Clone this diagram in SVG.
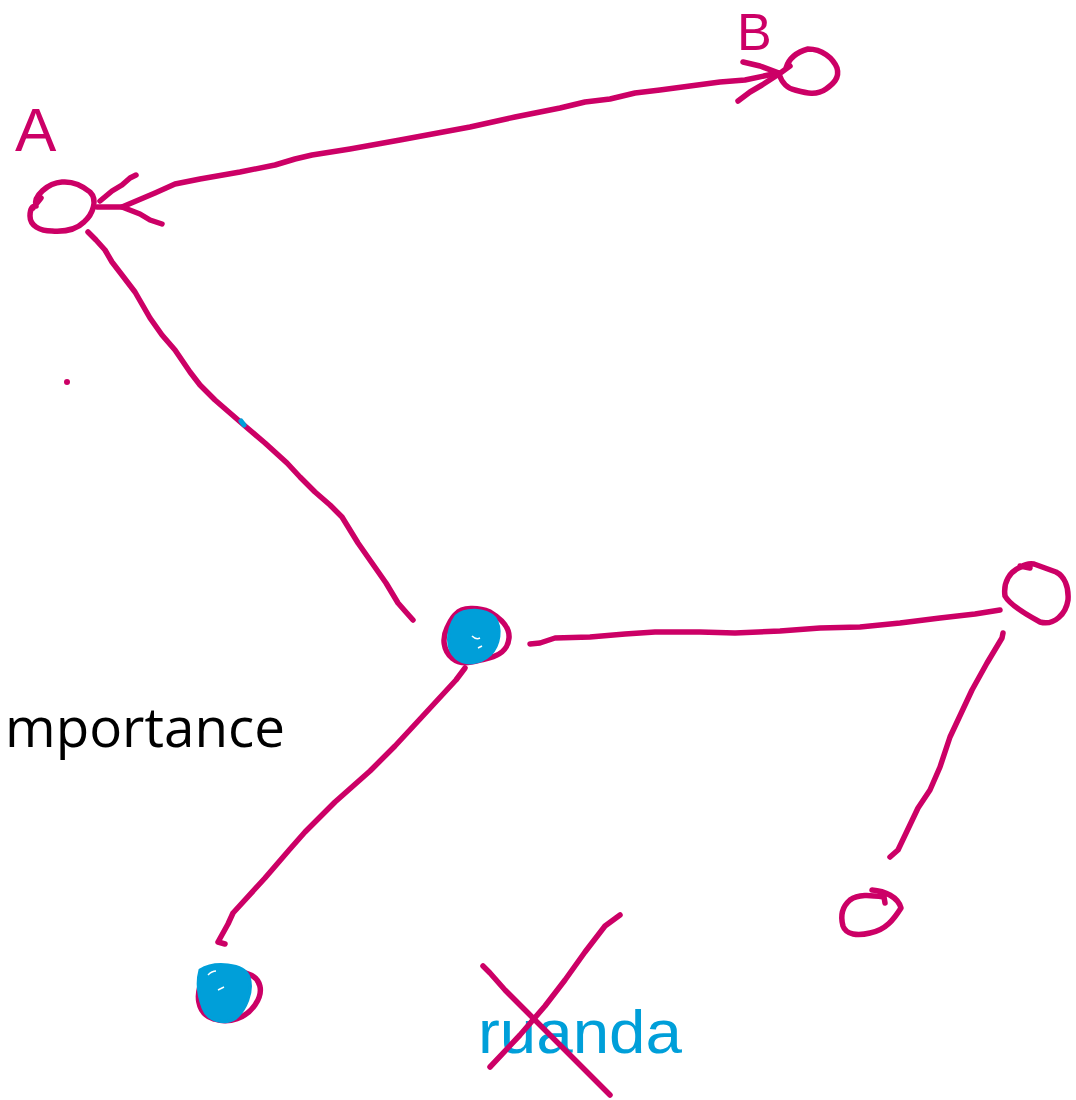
<svg xmlns="http://www.w3.org/2000/svg" width="1076" height="1100" viewBox="0 0 1076 1100">
<style>
.ink{fill:none;stroke:#cc0066;stroke-width:5.5;stroke-linecap:round;stroke-linejoin:round}
.blueink{fill:none;stroke:#009fd9;stroke-width:5;stroke-linecap:round;stroke-linejoin:round}
.blob{fill:#009fd9;stroke:#009fd9;stroke-width:3;stroke-linejoin:round}
.hand{font-family:"Liberation Sans",Arial,sans-serif;fill:#cc0066}
.handb{font-family:"Liberation Sans",Arial,sans-serif;fill:#009fd9}
.label{font-family:"Open Sans","Liberation Sans",sans-serif;fill:#000}
</style>
<rect width="1076" height="1100" fill="#fff"/>
<g id="connectors">
  <path class="ink" d="M122,207 L155,193 L175,184 L200,179 L240,172 L275,165 L295,159 L312,155 L350,149 L400,140 L470,127 L515,117 L560,108 L585,102 L610,99 L635,93 L660,90 L690,86 L720,82 L745,80 L778,73"/>
  <path class="ink" d="M743,62 L760,66 L779,73 M738,101 L750,92 L762,85 L779,74"/>
  <path class="ink" d="M100,201 L112,191 L122,185 L130,178 L136,175 M97,207 L122,207 L140,214 L150,220 L162,224"/>
  <path class="ink" d="M88,232 L96,240 L105,250 L112,262 L122,275 L135,292 L150,318 L162,335 L175,350 L190,372 L200,385 L215,400 L245,426 L265,443 L287,463 L300,477 L315,492 L330,505 L342,517 L358,543 L372,563 L386,583 L398,603 L405,611 L413,620"/>
  <path class="ink" d="M530,644 L540,643 L555,638 L590,637 L625,634 L655,632 L700,632 L735,633 L780,631 L820,628 L860,627 L900,623 L940,618 L975,614 L1000,610"/>
  <path class="ink" d="M1003,633 L1002,638 L987,663 L972,690 L950,737 L940,767 L930,790 L918,808 L898,850 L890,857"/>
  <path class="ink" d="M465,668 L456,680 L420,719 L395,746 L370,771 L335,802 L305,832 L290,849 L265,878 L233,913 L228,924 L218,942 L225,944"/>
</g>
<g id="node-A">
  <path class="ink" d="M36,206 C33,196 48,183 62,182 C74,181 84,187 90,192 C98,200 93,214 84,222 C76,230 66,232 52,231 C40,231 30,226 30,216 C30,210 32,206 36,206 M33,208 L41,198"/>
  <text class="hand" x="15" y="151" font-size="62">A</text>
</g>
<g id="node-B">
  <path class="ink" d="M786,68 C789,58 797,52 808,49 C822,49 833,58 837,68 C840,78 833,84 826,89 C816,96 806,93 795,90 C785,88 781,80 779,74 L790,66"/>
  <text class="hand" x="737" y="50" font-size="52">B</text>
</g>
<g id="node-center">
  <path class="ink" d="M456,614 C462,607 478,607 490,612 C500,618 510,626 509,638 C508,650 500,656 485,659 C472,662 462,666 452,658 C443,650 442,638 447,628 C450,622 452,617 456,614"/>
  <path class="blob" d="M456,616 C465,608 485,608 495,618 C502,628 500,645 490,655 C480,664 465,666 456,658 C447,650 445,632 456,616 Z"/>
  <path d="M472,636 q4,4 8,2 M478,648 l4,-2" stroke="#fff" stroke-width="1.5" fill="none"/>
</g>
<g id="node-right">
  <path class="ink" d="M1021,567 C1010,571 1003,582 1005,596 C1010,605 1025,614 1040,622 C1054,626 1066,614 1068,600 C1069,586 1064,576 1056,572 L1034,564 C1028,563 1024,565 1021,567 M1020,566 L1030,568"/>
</g>
<g id="node-bottom-right">
  <path class="ink" d="M872,890 C885,891 898,897 901,908 C894,919 886,930 870,933 C858,936 846,935 843,926 C840,915 843,906 850,900 C858,894 870,895 884,897 L885,903"/>
</g>
<g id="node-bottom-left">
  <path class="ink" d="M204,977 C195,993 196,1014 214,1019 C230,1024 246,1018 255,1005 C264,992 262,978 246,973 C232,968 215,972 204,977 Z"/>
  <path class="blob" d="M200,970 C214,961 244,963 249,977 C254,992 245,1010 236,1018 C226,1025 208,1022 203,1008 C198,995 197,981 200,970 Z"/>
  <path d="M208,975 q4,-4 8,-4 M218,990 l6,-3" stroke="#fff" stroke-width="1.5" fill="none"/>
</g>
<g id="marks">
  <circle cx="67" cy="382" r="3" fill="#cc0066"/>
  <path class="blueink" d="M241,421 L244,425" stroke-width="4"/>
</g>
<g id="label-importance">
  <text class="label" x="5" y="747" font-size="55" textLength="280" lengthAdjust="spacingAndGlyphs">mportance</text>
</g>
<g id="crossed-word">
  <text class="handb" x="478" y="1053" font-size="62" textLength="204" lengthAdjust="spacingAndGlyphs">ruanda</text>
  <path class="ink" d="M483,966 L490,973 L505,990 L530,1015 L560,1045 L610,1095"/>
  <path class="ink" d="M490,1067 L520,1035 L545,1006 L565,980 L585,952 L605,926 L620,915"/>
</g>
</svg>
